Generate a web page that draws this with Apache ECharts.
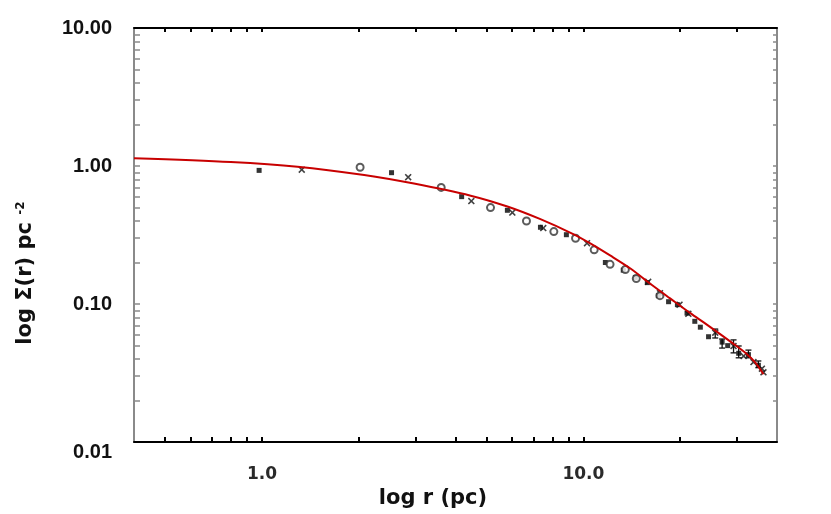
<!DOCTYPE html>
<html>
<head>
<meta charset="utf-8">
<script src="https://cdn.jsdelivr.net/npm/echarts@6/dist/echarts.min.js"></script>
<style>
html,body{margin:0;padding:0;background:#fff;}
#chart{width:831px;height:514px;}
</style>
</head>
<body>
<div id="chart"></div>
<script>
// ---- data ----
const squareX = [0.98, 2.53, 4.18, 5.80, 7.35, 8.85, 11.7, 13.3, 14.5, 15.8, 17.1, 18.4, 19.6, 21.0, 22.2, 23.1, 24.5, 27.0, 28.1, 30.4, 32.6, 35.0];
const squareY = [0.93, 0.895, 0.60, 0.478, 0.36, 0.318, 0.20, 0.176, 0.156, 0.143, 0.115, 0.104, 0.099, 0.086, 0.075, 0.068, 0.058, 0.053, 0.050, 0.044, 0.043, 0.036];

const crossX = [1.33, 2.85, 4.48, 6.01, 7.5, 10.26, 15.9, 17.3, 19.9, 21.2, 25.7, 29.3, 31.5, 33.8, 35.9, 36.3];
const crossY = [0.94, 0.83, 0.558, 0.46, 0.355, 0.276, 0.145, 0.12, 0.099, 0.085, 0.062, 0.0496, 0.042, 0.038, 0.034, 0.032];

const circleX = [2.02, 3.61, 5.14, 6.65, 8.09, 9.45, 10.8, 12.1, 13.5, 14.6, 17.3];
const circleY = [0.98, 0.70, 0.50, 0.40, 0.335, 0.30, 0.247, 0.194, 0.178, 0.153, 0.115];

const errX    = [25.7, 27.0, 29.3, 30.4, 32.6, 35.0];
const errLow  = [0.0568, 0.0480, 0.0443, 0.0408, 0.0408, 0.0346];
const errHigh = [0.0659, 0.0558, 0.0550, 0.0497, 0.0464, 0.0387];

const curveX = [0.4, 0.8, 1.29, 2.08, 2.97, 4.46, 5.8, 7.35, 9.33, 10.5, 12.1, 14.0, 16.1, 18.6, 21.5, 24.2, 29.3, 32.2, 34.3, 36.3];
const curveY = [1.14, 1.07, 0.99, 0.861, 0.746, 0.610, 0.509, 0.412, 0.320, 0.275, 0.225, 0.181, 0.141, 0.110, 0.0859, 0.0710, 0.0515, 0.0435, 0.0375, 0.031];

const xLabelValues = [1, 10];
const yLabelValues = [0.01, 0.1, 1, 10];
const xTickValues = [0.5, 0.6, 0.7, 0.8, 0.9, 1, 2, 3, 4, 5, 6, 7, 8, 9, 10, 20, 30];
const yTickValues = [0.02, 0.03, 0.04, 0.05, 0.06, 0.07, 0.08, 0.09, 0.1,
                     0.2, 0.3, 0.4, 0.5, 0.6, 0.7, 0.8, 0.9, 1,
                     2, 3, 4, 5, 6, 7, 8, 9];

const xName = 'log r (pc)';
const yNameMain = 'log Σ(r) pc ';
const yNameSup = '-2';

// ---- chart ----
const zip = (a, b) => a.map((v, i) => [v, b[i]]);
const chart = echarts.init(document.getElementById('chart'), null, {renderer: 'canvas'});

const crossPath = 'path://M0,1.6L1.6,0L5,3.4L8.4,0L10,1.6L6.6,5L10,8.4L8.4,10L5,6.6L1.6,10L0,8.4L3.4,5Z';

const titleFont = 'DejaVu Sans';

chart.setOption({
  animation: false,
  backgroundColor: '#ffffff',
  grid: {left: 134, right: 54, top: 28, bottom: 68, containLabel: false},
  xAxis: [
    {
      type: 'log', logBase: 10, min: 0.4, max: 40, position: 'bottom',
      name: xName, nameLocation: 'middle', nameGap: 37,
      nameTextStyle: {fontFamily: titleFont, fontWeight: 'bold', fontSize: 21, color: '#111', padding: [0, 45, 0, 0]},
      axisLine: {show: true, lineStyle: {color: '#000', width: 2}},
      axisTick: {show: true, inside: true, length: 5, customValues: xTickValues, lineStyle: {color: '#000', width: 2}},
      minorTick: {show: false},
      axisLabel: {show: true, customValues: xLabelValues, margin: 24,
        formatter: v => Number(v).toFixed(1),
        fontFamily: 'DejaVu Sans', fontWeight: 'bold', fontSize: 17, color: '#2a2a2a'},
      splitLine: {show: false}
    },
    {
      type: 'log', logBase: 10, min: 0.4, max: 40, position: 'top',
      axisLine: {show: true, lineStyle: {color: '#000', width: 2}},
      axisTick: {show: true, inside: true, length: 4, customValues: xTickValues, lineStyle: {color: '#000', width: 2}},
      axisLabel: {show: false},
      splitLine: {show: false}
    }
  ],
  yAxis: [
    {
      type: 'log', logBase: 10, min: 0.01, max: 10, position: 'left',
      name: yNameMain + '{sup|' + yNameSup + '}', nameLocation: 'middle', nameGap: 98, nameRotate: 90,
      nameTextStyle: {fontFamily: titleFont, fontWeight: 'bold', fontSize: 21, color: '#111', padding: [0, 76, 0, 0],
        rich: {sup: {fontFamily: titleFont, fontWeight: 'bold', fontSize: 12, color: '#111', verticalAlign: 'top'}}},
      axisLine: {show: true, lineStyle: {color: '#8a8a8a', width: 2}},
      axisTick: {show: true, inside: true, length: 6, customValues: yTickValues, lineStyle: {color: '#8a8a8a', width: 1.5}},
      axisLabel: {show: true, customValues: yLabelValues, margin: 22,
        formatter: v => {
          const s = Number(v).toFixed(2);
          return Math.abs(v - 0.01) < 1e-9 ? '{low|' + s + '}' : s;
        },
        fontFamily: 'Liberation Sans', fontWeight: 'bold', fontSize: 20, color: '#111',
        rich: {low: {fontFamily: 'Liberation Sans', fontWeight: 'bold', fontSize: 20, color: '#111', padding: [20, 0, 0, 0]}}},
      splitLine: {show: false}
    },
    {
      type: 'log', logBase: 10, min: 0.01, max: 10, position: 'right',
      axisLine: {show: true, lineStyle: {color: '#8a8a8a', width: 2}},
      axisTick: {show: true, inside: true, length: 4, customValues: yTickValues, lineStyle: {color: '#8a8a8a', width: 1.5}},
      axisLabel: {show: false},
      splitLine: {show: false}
    }
  ],
  series: [
    {
      name: 'squares', type: 'scatter', xAxisIndex: 0, yAxisIndex: 0,
      data: zip(squareX, squareY), symbol: 'rect', symbolSize: 5,
      itemStyle: {color: '#000'}, z: 3
    },
    {
      name: 'crosses', type: 'scatter', xAxisIndex: 0, yAxisIndex: 0,
      data: zip(crossX, crossY), symbol: crossPath, symbolSize: 7,
      itemStyle: {color: '#111'}, z: 3
    },
    {
      name: 'circles', type: 'scatter', xAxisIndex: 0, yAxisIndex: 0,
      data: zip(circleX, circleY), symbol: 'emptyCircle', symbolSize: 7,
      itemStyle: {color: '#333', borderWidth: 1.2}, z: 3
    },
    {
      name: 'errors', type: 'custom', xAxisIndex: 0, yAxisIndex: 0,
      data: errX.map((x, i) => [x, errLow[i], errHigh[i]]),
      encode: {x: 0, y: [1, 2]},
      renderItem: (params, api) => {
        const x = api.value(0);
        const p1 = api.coord([x, api.value(1)]);
        const p2 = api.coord([x, api.value(2)]);
        const w = 3;
        const st = {stroke: '#111', lineWidth: 1.3};
        return {type: 'group', children: [
          {type: 'line', shape: {x1: p1[0], y1: p1[1], x2: p2[0], y2: p2[1]}, style: st},
          {type: 'line', shape: {x1: p1[0] - w, y1: p1[1], x2: p1[0] + w, y2: p1[1]}, style: st},
          {type: 'line', shape: {x1: p2[0] - w, y1: p2[1], x2: p2[0] + w, y2: p2[1]}, style: st}
        ]};
      },
      z: 3
    },
    {
      name: 'fit', type: 'line', xAxisIndex: 0, yAxisIndex: 0,
      data: zip(curveX, curveY), showSymbol: false, symbol: 'none', smooth: 0.3,
      lineStyle: {color: '#c80000', width: 2}, z: 4
    }
  ]
});
</script>
</body>
</html>
